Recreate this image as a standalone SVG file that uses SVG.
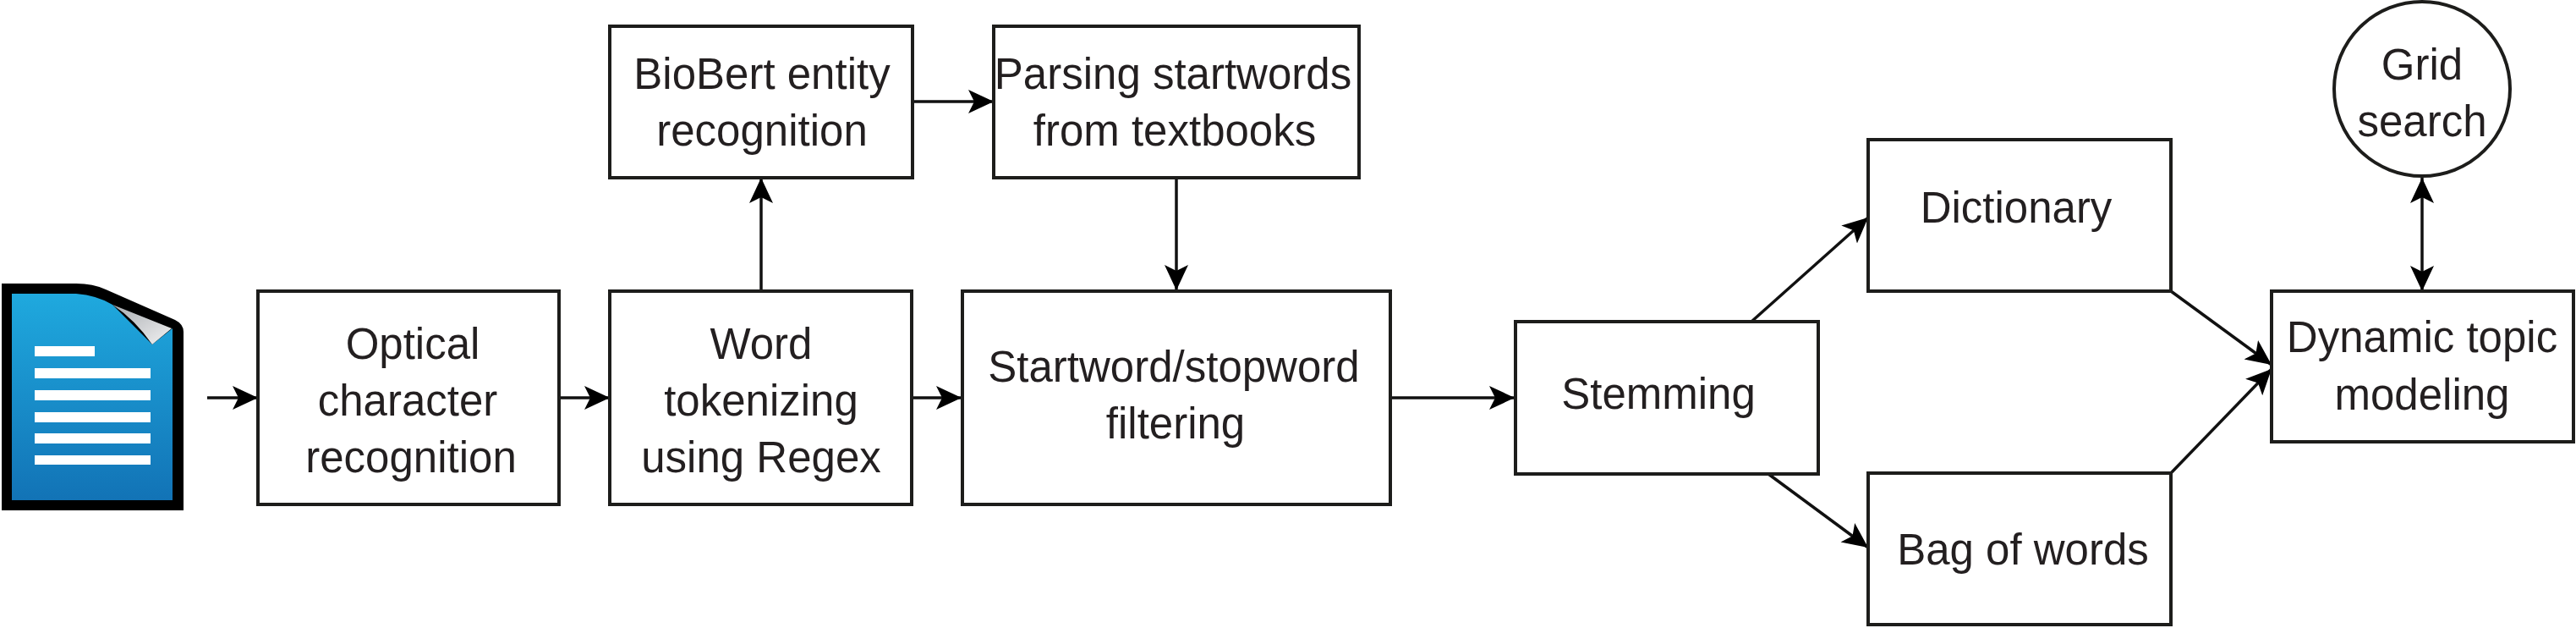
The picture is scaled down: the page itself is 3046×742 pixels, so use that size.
<svg xmlns="http://www.w3.org/2000/svg" width="3046" height="742" viewBox="0 0 3046 742">
<style>
.box{fill:#fff;stroke:#1d1d1b;stroke-width:4}
.lbl{font-family:"Liberation Sans",Arial,sans-serif;font-size:51px;fill:#231f20;text-anchor:middle}
.wire{fill:none;stroke:#111;stroke-width:3.5;marker-end:url(#head)}
</style>
<defs>
<marker id="head" markerUnits="userSpaceOnUse" markerWidth="32" markerHeight="30" refX="30" refY="15" orient="auto-start-reverse">
<path d="M0 1L30 15L0 29L7 15Z" fill="#000"/>
</marker>
<linearGradient id="sheet" x1="0" y1="0" x2="0" y2="1">
<stop offset="0" stop-color="#1fa9de"/><stop offset="1" stop-color="#1273b6"/>
</linearGradient>
<linearGradient id="curl" x1="0" y1="0" x2="1" y2="1">
<stop offset="0" stop-color="#a8acb0"/><stop offset="1" stop-color="#f2f2f3"/>
</linearGradient>
</defs>
<rect width="3046" height="742" fill="#fff"/>
<g id="connectors">
<path class="wire" d="M245 470H305"/>
<path class="wire" d="M661 470H721"/>
<path class="wire" d="M1078 470H1137"/>
<path class="wire" d="M900 344V210"/>
<path class="wire" d="M1079 120H1175"/>
<path class="wire" d="M1391 210V343"/>
<path class="wire" d="M1644 470H1791"/>
<path class="wire" d="M2071 380L2209 257"/>
<path class="wire" d="M2091 560L2209 647"/>
<path class="wire" d="M2567 344L2686 431"/>
<path class="wire" d="M2567 559L2686 436"/>
<path class="wire" style="marker-start:url(#head)" d="M2864 344V210"/>
</g>
<g id="source-document">
<path d="M2 335H90Q110 335 125 342L207 378Q217 383 217 392V603H2Z" fill="#000"/>
<path d="M14 347H90Q115 349 133 360L180 407L204 388V591H14Z" fill="url(#sheet)"/>
<path d="M133 360L203 388L180 407Q160 378 133 360Z" fill="url(#curl)"/>
<path d="M41 409H112V421H41ZM41 435H178V447H41ZM41 461H178V473H41ZM41 487H178V499H41ZM41 512H178V524H41ZM41 538H178V549H41Z" fill="#fff"/>
</g>
<g id="ocr"><rect class="box" x="305" y="344" width="356" height="252"/>
<text class="lbl" x="488" y="424">Optical</text><text class="lbl" x="482" y="491">character</text><text class="lbl" x="486" y="558">recognition</text></g>
<g id="tokenizing"><rect class="box" x="721" y="344" width="357" height="252"/>
<text class="lbl" x="900" y="424">Word</text><text class="lbl" x="900" y="491">tokenizing</text><text class="lbl" x="900" y="558">using Regex</text></g>
<g id="biobert"><rect class="box" x="721" y="31" width="358" height="179"/>
<text class="lbl" x="901" y="105">BioBert entity</text><text class="lbl" x="901" y="172">recognition</text></g>
<g id="parsing"><rect class="box" x="1175" y="31" width="432" height="179"/>
<text class="lbl" x="1387" y="105">Parsing startwords</text><text class="lbl" x="1389" y="172">from textbooks</text></g>
<g id="filtering"><rect class="box" x="1138" y="344" width="506" height="252"/>
<text class="lbl" x="1388" y="451">Startword/stopword</text><text class="lbl" x="1390" y="518">filtering</text></g>
<g id="stemming"><rect class="box" x="1792" y="380" width="358" height="180"/>
<text class="lbl" x="1961" y="483">Stemming</text></g>
<g id="dictionary"><rect class="box" x="2209" y="165" width="358" height="179"/>
<text class="lbl" x="2384" y="263">Dictionary</text></g>
<g id="bag-of-words"><rect class="box" x="2209" y="559" width="358" height="179"/>
<text class="lbl" x="2392" y="667">Bag of words</text></g>
<g id="topic-modeling"><rect class="box" x="2686" y="344" width="357" height="178"/>
<text class="lbl" x="2864" y="416">Dynamic topic</text><text class="lbl" x="2864" y="484">modeling</text></g>
<g id="grid-search"><ellipse class="box" cx="2864" cy="105" rx="104" ry="103"/>
<text class="lbl" x="2864" y="94">Grid</text><text class="lbl" x="2864" y="161">search</text></g>
</svg>
